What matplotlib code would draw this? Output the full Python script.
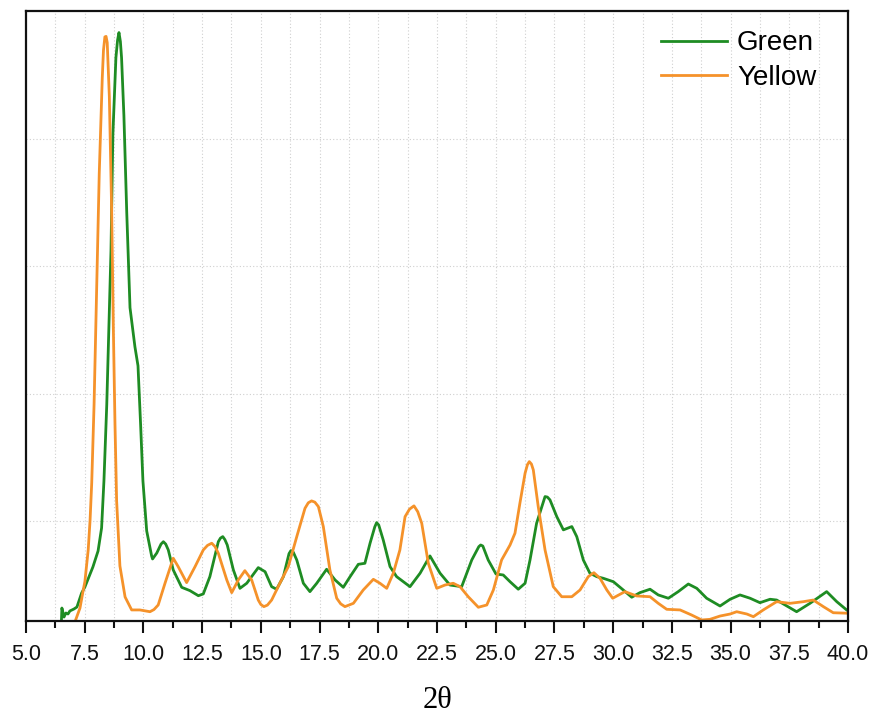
import matplotlib
matplotlib.use("Agg")
import matplotlib.pyplot as plt
from matplotlib.ticker import MultipleLocator, FixedLocator

# powder patterns, 2-theta (deg) vs intensity (a.u.)
green_2theta = [6.51, 6.53, 6.62, 6.70, 6.79, 6.87, 7.04, 7.17, 7.37, 7.51, 7.73, 7.85,
                8.07, 8.22, 8.32, 8.44, 8.53, 8.62, 8.70, 8.83, 8.90, 8.96, 9.02, 9.07,
                9.17, 9.29, 9.43, 9.64, 9.77, 9.88, 9.98, 10.14, 10.35, 10.39, 10.57,
                10.75, 10.85, 10.95, 11.06, 11.27, 11.63, 11.98, 12.34, 12.55, 12.83,
                13.19, 13.28, 13.38, 13.47, 13.57, 13.83, 14.11, 14.40, 14.89, 15.18,
                15.46, 15.67, 15.96, 16.20, 16.28, 16.38, 16.53, 16.81, 17.09, 17.38,
                17.80, 18.16, 18.51, 18.80, 19.15, 19.43, 19.65, 19.85, 19.93, 20.02,
                20.21, 20.50, 20.78, 21.35, 21.78, 22.20, 22.63, 23.05, 23.55, 23.98,
                24.28, 24.36, 24.45, 24.68, 25.01, 25.32, 25.61, 25.96, 26.25, 26.46,
                26.74, 27.10, 27.20, 27.31, 27.60, 27.88, 28.24, 28.45, 28.73, 29.01,
                29.30, 29.58, 30.01, 30.43, 30.79, 31.14, 31.57, 31.92, 32.35, 32.77,
                33.20, 33.56, 33.98, 34.55, 34.98, 35.40, 35.83, 36.25, 36.68, 36.96,
                37.32, 37.81, 38.38, 39.09, 39.52, 39.94, 40.00]
green_int = [210, 312, 241, 273, 265, 289, 304, 320, 430, 478, 580, 635,
             761, 942, 1312, 1911, 2517, 3123, 4037, 4643, 4780, 4840, 4770, 4643,
             4186, 3430, 2675, 2367, 2218, 1761, 1312, 919, 722, 698, 745,
             815, 834, 815, 769, 612, 475, 449, 409, 423, 559,
             834, 862, 874, 850, 808, 612, 467, 507, 630, 598,
             480, 460, 559, 740, 764, 752, 690, 507, 441, 507,
             617, 533, 475, 559, 656, 664, 822, 950, 984, 965,
             848, 638, 559, 480, 586, 722, 586, 493, 480, 690,
             795, 808, 800, 690, 580, 572, 519, 460, 507, 690,
             979, 1189, 1185, 1163, 1031, 927, 953, 874, 690, 586,
             559, 546, 519, 454, 397, 433, 460, 415, 389, 441,
             501, 467, 389, 328, 381, 415, 389, 354, 381, 375,
             336, 283, 349, 441, 362, 297, 289]

yellow_2theta = [6.96, 7.09, 7.30, 7.44, 7.51, 7.65, 7.73, 7.80, 7.90, 8.01, 8.12, 8.25,
                 8.30, 8.36, 8.41, 8.46, 8.55, 8.65, 8.72, 8.79, 8.86, 9.00, 9.22, 9.50,
                 9.85, 10.28, 10.45, 10.63, 10.92, 11.27, 11.48, 11.84, 12.20, 12.55,
                 12.73, 12.91, 13.05, 13.19, 13.55, 13.76, 14.04, 14.32, 14.61, 14.89,
                 15.00, 15.13, 15.28, 15.46, 15.81, 16.17, 16.53, 16.88, 17.02, 17.16,
                 17.30, 17.45, 17.66, 17.94, 18.23, 18.40, 18.58, 18.94, 19.36, 19.79,
                 20.07, 20.36, 20.64, 20.92, 21.14, 21.33, 21.52, 21.68, 21.85, 22.13,
                 22.49, 22.84, 23.19, 23.48, 23.83, 24.26, 24.62, 24.90, 25.25, 25.61,
                 25.82, 26.03, 26.25, 26.35, 26.43, 26.52, 26.60, 26.81, 27.10, 27.45,
                 27.81, 28.24, 28.59, 28.94, 29.18, 29.44, 29.73, 29.98, 30.50, 31.00,
                 31.57, 31.92, 32.28, 32.85, 33.34, 33.77, 34.12, 34.55, 34.98, 35.26,
                 35.69, 35.97, 36.39, 36.96, 37.53, 38.10, 38.52, 38.95, 39.37, 40.00]
yellow_int = [202, 205, 312, 454, 521, 769, 1005, 1297, 1914, 2824, 3730, 4488,
              4700, 4806, 4810, 4761, 4336, 3430, 2519, 1761, 1156, 643, 399, 297,
              297, 283, 300, 336, 507, 704, 638, 512, 638, 769,
              805, 822, 795, 743, 533, 433, 533, 606, 533, 375,
              340, 323, 335, 375, 507, 638, 874, 1097, 1140, 1155,
              1145, 1110, 953, 612, 389, 345, 323, 349, 454, 538,
              507, 467, 586, 769, 1031, 1090, 1116, 1070, 979, 664,
              467, 493, 507, 480, 401, 318, 336, 454, 690, 808,
              901, 1137, 1373, 1440, 1464, 1445, 1399, 1110, 769, 480,
              401, 401, 454, 559, 590, 546, 454, 389, 441, 407,
              401, 349, 302, 297, 257, 218, 223, 249, 265, 283,
              265, 244, 297, 362, 349, 362, 375, 323, 275, 271]

xticks = [5.0, 7.5, 10.0, 12.5, 15.0, 17.5, 20.0, 22.5, 25.0, 27.5, 30.0,
          32.5, 35.0, 37.5, 40.0]

plt.rcParams['font.family'] = ['Liberation Sans', 'DejaVu Sans']

fig = plt.figure(figsize=(8.74, 7.17), dpi=100)
ax = fig.add_axes([0.0297, 0.1339, 0.9406, 0.8508])

ax.plot(green_2theta, green_int, color='#1e8c23', lw=2.0, label='Green',
        solid_joinstyle='round')
ax.plot(yellow_2theta, yellow_int, color='#f5922a', lw=2.0, label='Yellow',
        solid_joinstyle='round')

ax.set_xlim(5.0, 40.0)
ax.set_ylim(210, 5010)

ax.xaxis.set_major_locator(FixedLocator(xticks))
ax.xaxis.set_minor_locator(MultipleLocator(1.25))
ax.set_xticklabels([f'{t:.1f}' for t in xticks])
ax.set_yticks([])

# dotted grid on every 1.25 deg and every 1000 counts
for gx in [6.25 + 1.25 * i for i in range(27)]:
    ax.axvline(gx, color='#cfcfcf', lw=0.8, ls=(0, (1, 2)), zorder=0)
for gy in [1000, 2000, 3000, 4000]:
    ax.axhline(gy, color='#cfcfcf', lw=0.8, ls=(0, (1, 2)), zorder=0)

for s in ax.spines.values():
    s.set_linewidth(1.6)
    s.set_color('#111111')

ax.tick_params(axis='x', which='major', direction='out', length=8.5, width=1.5,
               labelsize=15.5, pad=8, colors='#111111')
ax.tick_params(axis='x', which='minor', direction='out', length=5, width=1.5,
               colors='#111111')

ax.set_xlabel('2θ', fontsize=22, family=['Liberation Serif', 'DejaVu Serif'],
              labelpad=15)

ax.legend(loc='upper right', frameon=False, fontsize=20, handlelength=2.4,
          handletextpad=0.35, labelspacing=0.3, borderaxespad=0.3,
          bbox_to_anchor=(0.985, 1.0))

fig.savefig('out.png', dpi=100)
